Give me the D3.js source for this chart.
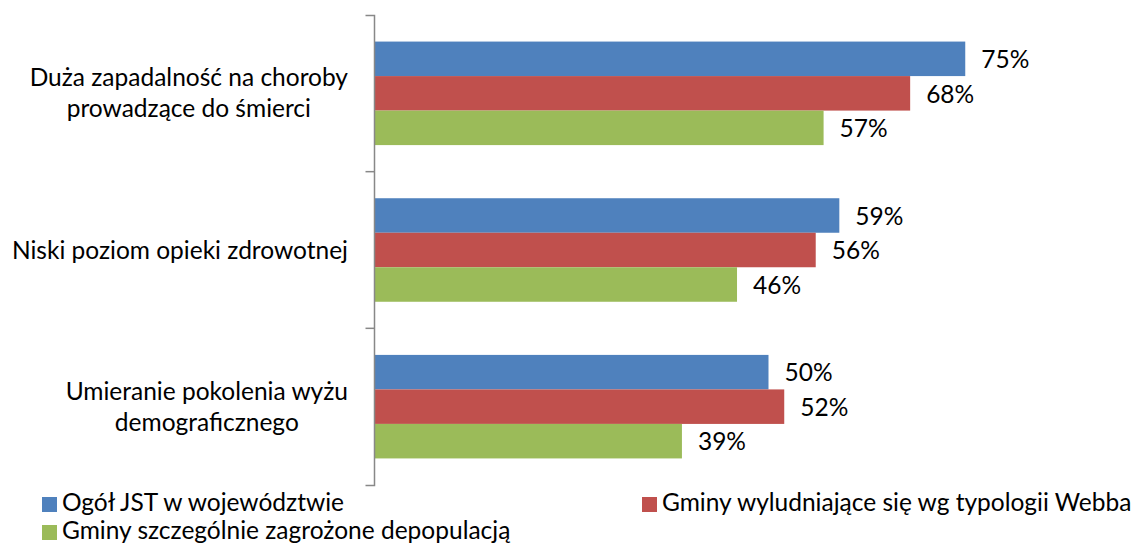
<!DOCTYPE html>
<html>
<head>
<meta charset="utf-8">
<script src="https://cdn.jsdelivr.net/npm/d3@7"></script>
<style>
  body { margin: 0; background: #fff; }
  text { font-family: Lato, "Open Sans", sans-serif; fill: #000; }
</style>
</head>
<body>
<div id="chart"></div>
<script>
const categories = [
  ["Duża zapadalność na choroby", "prowadzące do śmierci"],
  ["Niski poziom opieki zdrowotnej"],
  ["Umieranie pokolenia wyżu", "demograficznego"]
];
const seriesNames = [
  "Ogół JST w województwie",
  "Gminy wyludniające się wg typologii Webba",
  "Gminy szczególnie zagrożone depopulacją"
];
const seriesColors = ["#4F81BD", "#C0504D", "#9BBB59"];
const ogol = [75, 59, 50];
const webb = [68, 56, 52];
const depop = [57, 46, 39];

const width = 1144;
const height = 545;
const fontSize = 24.5;

const svg = d3.select("#chart").append("svg")
  .attr("width", width)
  .attr("height", height);

const values = [ogol, webb, depop];
const catIdx = categories.map((_, i) => i);

const xScale = d3.scaleLinear().domain([0, 100]).range([375, 1162]);
const yScale = d3.scaleBand().domain(catIdx).range([15, 485]);
const inner = d3.scaleBand().domain([0, 1, 2])
  .range([0, yScale.bandwidth()]).paddingOuter(0.77).paddingInner(0);

// bars
values.forEach((vals, s) => {
  const g = svg.append("g");
  g.selectAll("rect").data(vals).enter().append("rect")
    .attr("x", xScale(0))
    .attr("y", (d, i) => yScale(i) + inner(s))
    .attr("width", d => xScale(d) - xScale(0))
    .attr("height", inner.bandwidth())
    .attr("fill", seriesColors[s]);
  g.selectAll("text").data(vals).enter().append("text")
    .attr("x", d => xScale(d) + 16)
    .attr("y", (d, i) => yScale(i) + inner(s) + inner.bandwidth() / 2)
    .attr("dy", "0.38em")
    .style("font-size", fontSize + "px")
    .text(d => d + "%");
});

// axis
const yAxis = d3.axisLeft(yScale).tickSize(9).tickFormat("");
const axisG = svg.append("g")
  .attr("transform", `translate(${xScale(0) - 0.5},0)`)
  .call(yAxis);
axisG.selectAll("line, path").attr("stroke", "#888").attr("stroke-width", 1.5);
axisG.select(".domain").attr("d", `M-9,15.5H0V485.5H-9`);
axisG.selectAll(".tick").remove();
catIdx.slice(1).forEach(i => {
  axisG.append("line").attr("x1", -9).attr("x2", 0)
    .attr("y1", yScale(i)).attr("y2", yScale(i))
    .attr("stroke", "#888").attr("stroke-width", 1.5);
});

// category labels: block right-aligned, lines centered
const labelRight = 348;
const lineH = 31;
categories.forEach((lines, i) => {
  const g = svg.append("g");
  const texts = lines.map((l, j) => g.append("text")
    .attr("text-anchor", "middle")
    .style("font-size", fontSize + "px")
    .attr("y", yScale(i) + yScale.bandwidth() / 2 + (j - (lines.length - 1) / 2) * lineH)
    .attr("dy", "0.35em")
    .text(l));
  const maxW = d3.max(texts, t => t.node().getComputedTextLength());
  texts.forEach(t => t.attr("x", labelRight - maxW / 2));
});

// legend (positions are text baselines)
const legendPos = [[42, 511], [642, 511], [42, 539]];
seriesNames.forEach((name, s) => {
  const [lx, ly] = legendPos[s];
  svg.append("rect").attr("x", lx).attr("y", ly - 14)
    .attr("width", 15).attr("height", 15).attr("fill", seriesColors[s]);
  svg.append("text").attr("x", lx + 20).attr("y", ly)
    .style("font-size", fontSize + "px")
    .text(name);
});
</script>
</body>
</html>
